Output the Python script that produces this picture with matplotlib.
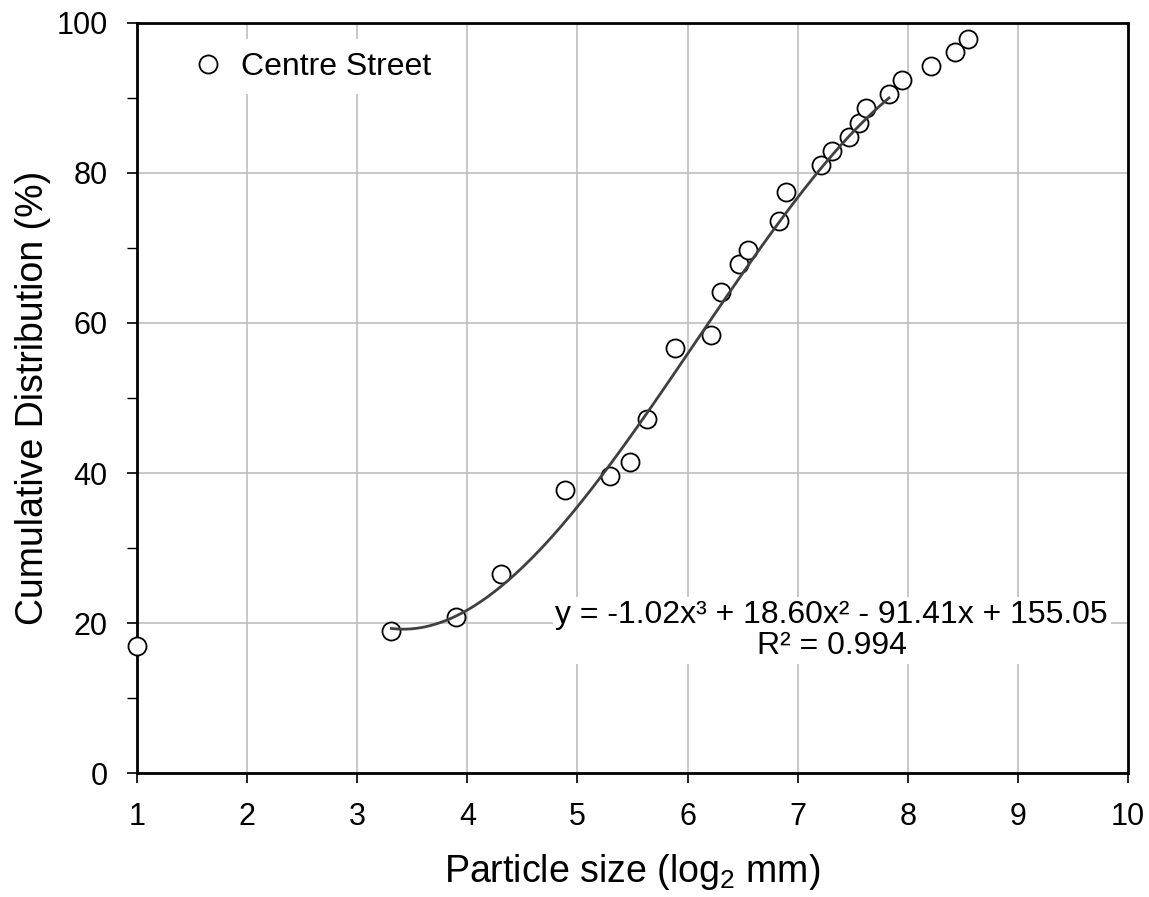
import numpy as np
import matplotlib
matplotlib.use("Agg")
import matplotlib.pyplot as plt
from matplotlib.ticker import MultipleLocator

plt.rcParams['font.family'] = ['Liberation Sans', 'DejaVu Sans']
plt.rcParams['mathtext.fontset'] = 'custom'
plt.rcParams['mathtext.rm'] = 'Liberation Sans'
plt.rcParams['mathtext.it'] = 'Liberation Sans'

# Centre Street particle sizes (log2 mm) and cumulative distribution (%)
size_log2 = [1.00, 3.31, 3.90, 4.31, 4.89, 5.30, 5.48, 5.63, 5.89, 6.21,
             6.30, 6.47, 6.55, 6.83, 6.89, 7.21, 7.31, 7.47, 7.56, 7.62,
             7.83, 7.95, 8.21, 8.43, 8.55]
cum_pct = [17.0, 19.0, 20.8, 26.5, 37.8, 39.6, 41.5, 47.2, 56.6, 58.4,
           64.1, 67.8, 69.7, 73.6, 77.4, 81.0, 82.9, 84.8, 86.7, 88.6,
           90.5, 92.4, 94.3, 96.1, 97.9]

# cubic trendline as printed on the chart
fit_coef = [-1.02, 18.60, -91.41, 155.05]
fit_range = [3.31, 7.83]
fit_label = "y = -1.02x³ + 18.60x² - 91.41x + 155.05\nR² = 0.994"

fig = plt.figure(figsize=(11.49, 8.97), dpi=100)
ax = fig.add_axes([0.1192, 0.1382, 0.8625, 0.8362])

ax.plot(size_log2, cum_pct, 'o', ms=13, mfc='white', mec='black', mew=1.3,
        label='Centre Street', zorder=3, clip_on=False)

xf = np.linspace(fit_range[0], fit_range[1], 200)
ax.plot(xf, np.polyval(fit_coef, xf), color='#404040', lw=2.0, zorder=4)

ax.text(7.31, 19.0, fit_label, fontsize=23, ha='center', va='center',
        linespacing=1.05, zorder=2,
        bbox=dict(facecolor='white', edgecolor='none', pad=2))

ax.set_xlim(1, 10)
ax.set_ylim(0, 100)
ax.xaxis.set_major_locator(MultipleLocator(1))
ax.yaxis.set_major_locator(MultipleLocator(20))
ax.yaxis.set_minor_locator(MultipleLocator(10))
ax.grid(True, which='major', color='#bfbfbf', lw=1.2, zorder=0)
ax.set_axisbelow(True)

ax.tick_params(which='major', direction='out', length=7, width=1.2,
               labelsize=22, pad=14)
ax.tick_params(axis='y', which='minor', direction='out', length=7, width=1.0)
for s in ax.spines.values():
    s.set_linewidth(2.0)

ax.set_xlabel(r'Particle size (log$_2$ mm)', fontsize=27, labelpad=14)
ax.set_ylabel('Cumulative Distribution (%)', fontsize=27, labelpad=4)

leg = ax.legend(loc='upper left', fontsize=23, frameon=True, handlelength=1.0,
                handletextpad=0.55, borderaxespad=0.5,
                bbox_to_anchor=(0.0265, 1.0))
leg.get_frame().set_edgecolor('none')
leg.get_frame().set_facecolor('white')
leg.get_frame().set_alpha(1)

fig.savefig('out.png', dpi=100)
